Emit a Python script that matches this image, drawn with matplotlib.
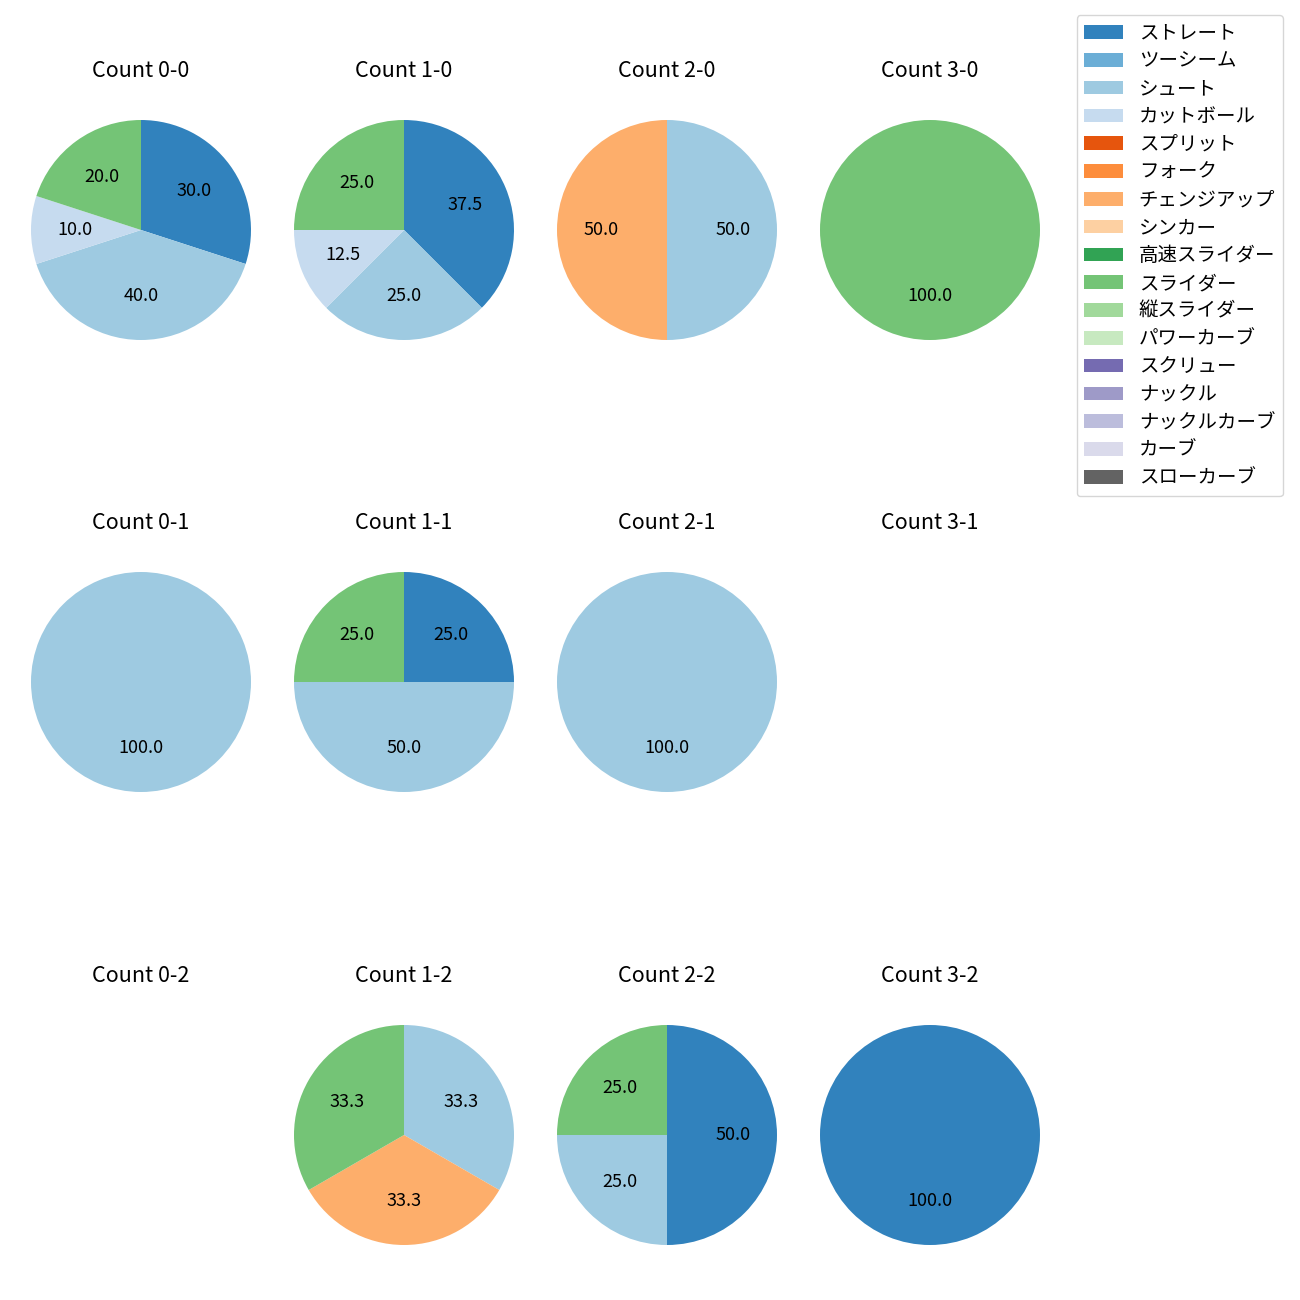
import matplotlib
matplotlib.use("Agg")
import matplotlib.pyplot as plt
from matplotlib.patches import Patch

plt.rcParams['font.family'] = ['Noto Sans CJK JP', 'DejaVu Sans']

# pitch types and colours (tab20c order)
pitch_names = ["ストレート", "ツーシーム", "シュート", "カットボール", "スプリット",
               "フォーク", "チェンジアップ", "シンカー", "高速スライダー", "スライダー",
               "縦スライダー", "パワーカーブ", "スクリュー", "ナックル", "ナックルカーブ",
               "カーブ", "スローカーブ"]
cmap = plt.get_cmap("tab20c")
pitch_colors = [cmap(i) for i in range(17)]

# counts: balls-strikes
balls = [0, 1, 2, 3]
strikes = [0, 1, 2]

# share of each pitch type per count (empty = no pitches)
count_data = {
    (0, 0): {"ストレート": 30.0, "シュート": 40.0, "カットボール": 10.0, "スライダー": 20.0},
    (1, 0): {"ストレート": 37.5, "シュート": 25.0, "カットボール": 12.5, "スライダー": 25.0},
    (2, 0): {"シュート": 50.0, "チェンジアップ": 50.0},
    (3, 0): {"スライダー": 100.0},
    (0, 1): {"シュート": 100.0},
    (1, 1): {"ストレート": 25.0, "シュート": 50.0, "スライダー": 25.0},
    (2, 1): {"シュート": 100.0},
    (3, 1): {},
    (0, 2): {},
    (1, 2): {"シュート": 33.3, "チェンジアップ": 33.3, "スライダー": 33.3},
    (2, 2): {"ストレート": 50.0, "シュート": 25.0, "スライダー": 25.0},
    (3, 2): {"ストレート": 100.0},
}

W, H = 1300, 1300
col_x = [141, 404, 667, 930]
row_y = [230, 682, 1135]
box = 275

fig = plt.figure(figsize=(13, 13), dpi=100)

for s in strikes:
    for b in balls:
        cx, cy = col_x[b], row_y[s]
        ax = fig.add_axes([(cx - box / 2) / W, 1 - (cy + box / 2) / H, box / W, box / H])
        ax.set_title(f"Count {b}-{s}", fontsize=15.5, pad=11.5)
        d = count_data[(b, s)]
        if not d:
            ax.axis("off")
            continue
        names = [n for n in pitch_names if n in d]
        vals = [d[n] for n in names]
        cols = [pitch_colors[pitch_names.index(n)] for n in names]
        ax.pie(vals, colors=cols, autopct="%.1f", startangle=90, counterclock=False,
               textprops={"fontsize": 13})

handles = [Patch(facecolor=c, label=n) for n, c in zip(pitch_names, pitch_colors)]
fig.legend(handles=handles, loc="upper right", bbox_to_anchor=(1283 / W, 1 - 15 / H),
           fontsize=14, labelspacing=0.35, borderaxespad=0)

fig.savefig("out.png", dpi=100)
